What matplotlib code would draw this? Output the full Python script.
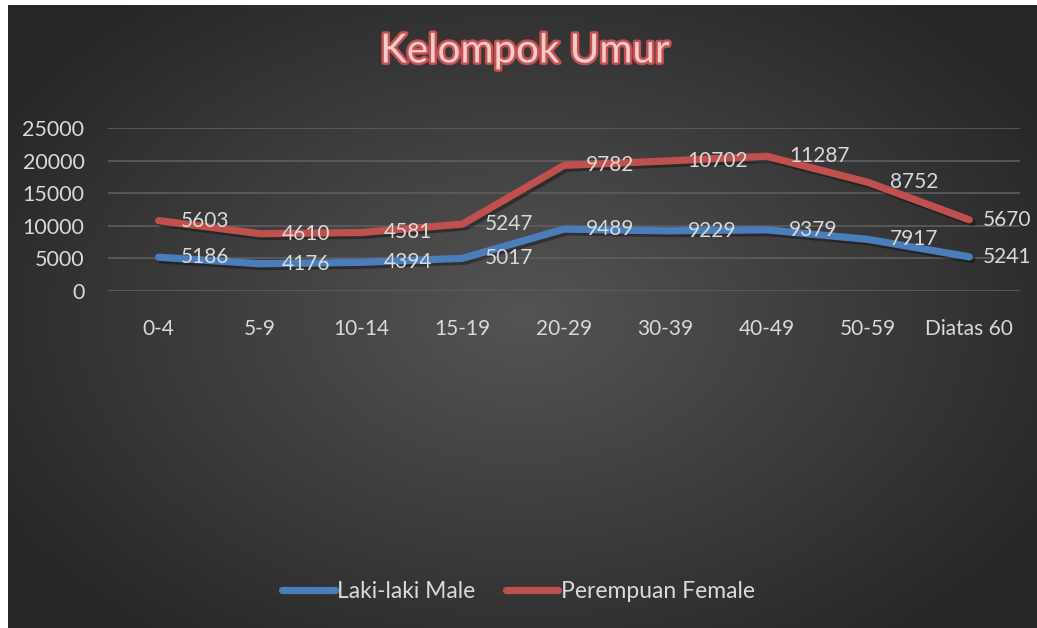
import numpy as np
import matplotlib
matplotlib.use('Agg')
import matplotlib.pyplot as plt
import matplotlib.patheffects as pe

# data (stacked line chart: the red line sits on top of the blue one)
groups = ['0-4', '5-9', '10-14', '15-19', '20-29', '30-39', '40-49', '50-59', 'Diatas 60']
male   = [5186, 4176, 4394, 5017, 9489, 9229, 9379, 7917, 5241]
female = [5603, 4610, 4581, 5247, 9782, 10702, 11287, 8752, 5670]
yticks = [0, 5000, 10000, 15000, 20000, 25000]

plt.rcParams['font.family'] = ['Lato', 'DejaVu Sans']
W, H, DPI = 1037, 628, 100
txt_col = '#d9d9d9'
blue, red = '#4a7ebb', '#c0504d'

fig = plt.figure(figsize=(W / DPI, H / DPI), dpi=DPI, facecolor='white')

# radial gradient background
bg = fig.add_axes([8 / W, 0, 1 - 8 / W, 1 - 5 / H], zorder=-10)
gx, gy = np.meshgrid(np.linspace(-1, 1, 400), np.linspace(-1, 1, 250))
r = np.sqrt(gx ** 2 + (gy * 0.9) ** 2)
shade = np.clip(0.33 - 0.15 * r, 0.15, 0.33)
bg.imshow(np.dstack([shade] * 3), aspect='auto', extent=[0, 1, 0, 1], interpolation='bicubic')
bg.axis('off')

ax = fig.add_axes([108 / W, 337 / H, 912 / W, 163 / H])
ax.patch.set_alpha(0)
x = np.arange(len(groups))
top = np.array(male) + np.array(female)

shadow = [pe.SimpleLineShadow(offset=(2, -2), alpha=0.35, shadow_color='black'), pe.Normal()]
ax.plot(x, male, color=blue, lw=5.2, solid_capstyle='round', solid_joinstyle='round',
        path_effects=shadow, zorder=3, label='Laki-laki Male')
ax.plot(x, top, color=red, lw=5.2, solid_capstyle='round', solid_joinstyle='round',
        path_effects=shadow, zorder=3, label='Perempuan Female')

for xi, m, t, f in zip(x, male, top, female):
    off = 10 if xi == len(groups) - 1 else 16
    ax.annotate(str(m), (xi, m), xytext=(off, 0), textcoords='offset points',
                ha='left', va='center', color=txt_col, fontsize=15, zorder=5)
    ax.annotate(str(f), (xi, t), xytext=(off, 0), textcoords='offset points',
                ha='left', va='center', color=txt_col, fontsize=15, zorder=5)

ax.set_xlim(-0.5, len(groups) - 0.5)
ax.set_ylim(0, 25000)
ax.set_yticks(yticks)
ax.set_yticklabels([str(v) for v in yticks])
ax.set_xticks(x)
ax.set_xticklabels(groups)
ax.tick_params(axis='y', length=0, pad=17, colors=txt_col, labelsize=15.5)
ax.tick_params(axis='x', length=0, pad=20, colors=txt_col, labelsize=15)
ax.grid(axis='y', color='#5e5e5e', lw=1.2)
ax.set_axisbelow(True)
for s in ax.spines.values():
    s.set_visible(False)

fig.text(525 / W, 1 - 51 / H, 'Kelompok Umur', ha='center', va='center',
         fontsize=29, fontweight='normal', color='#f2cccc',
         path_effects=[pe.Stroke(linewidth=3.5, foreground='#c8504e'), pe.Normal()])

leg = fig.legend(loc='center', bbox_to_anchor=(0.5, 1 - 592 / H), ncol=2, frameon=False,
                 fontsize=16.5, handlelength=2.3, handletextpad=0.1, columnspacing=1.3)
for t in leg.get_texts():
    t.set_color(txt_col)
for h in leg.get_lines():
    h.set_path_effects([])
    h.set_linewidth(5.2)
    h.set_solid_capstyle('round')

fig.savefig('out.png', dpi=DPI, facecolor='white')
